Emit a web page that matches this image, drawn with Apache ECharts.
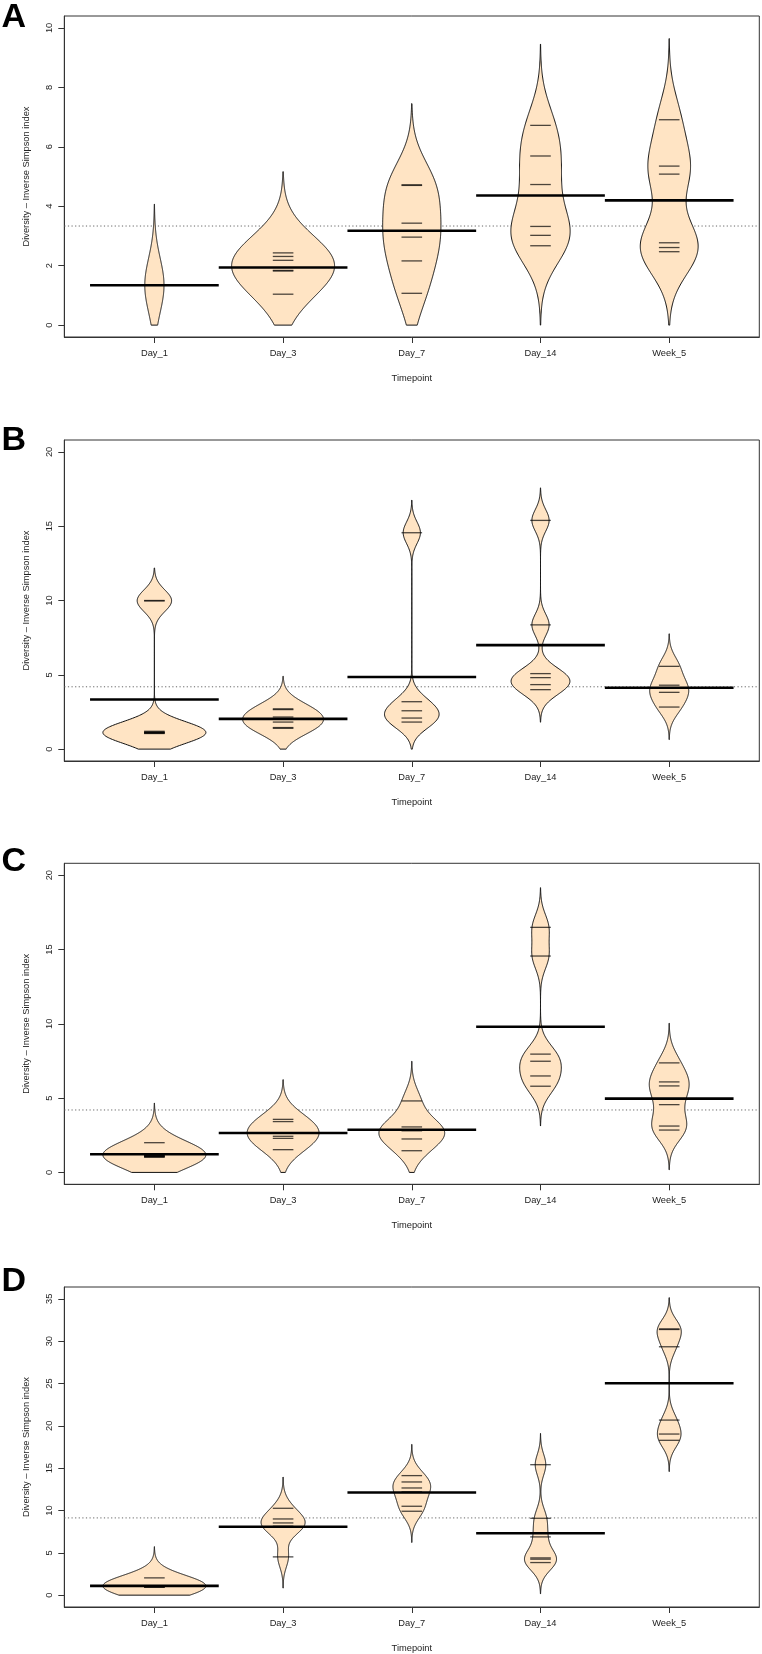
<!DOCTYPE html>
<html><head><meta charset="utf-8">
<script src="https://cdn.jsdelivr.net/npm/echarts@6/dist/echarts.min.js"></script>
<style>html,body{margin:0;padding:0;background:#fff}#chart{width:762px;height:1654px}</style>
</head><body><div id="chart"></div>
<script>
// ---------- data ----------
const categories = ['Day_1', 'Day_3', 'Day_7', 'Day_14', 'Week_5'];
const panelLetters = ['A', 'B', 'C', 'D'];
const yAxisTitle = 'Diversity \u2013 Inverse Simpson index';
const xAxisTitle = 'Timepoint';
const yLimits = [10, 20, 20, 35];        // upper y limit of each panel (lower is 0)
const yTickSteps = [2, 5, 5, 5];
const bandwidths = [0.91, 0.73, 0.89, 1.23]; // smoothing bandwidth of each panel

const obsA = [
  [1.34],
  [2.43, 2.31, 2.18, 1.84, 1.82, 1.04],
  [4.72, 4.70, 3.43, 2.96, 2.16, 1.07],
  [6.72, 5.69, 4.73, 3.32, 3.02, 2.67],
  [6.91, 5.35, 5.08, 2.77, 2.61, 2.47]
];
const obsB = [
  [10.0, 9.97, 1.20, 1.15, 1.12, 1.10, 1.08, 1.05],
  [2.71, 2.66, 2.16, 1.82, 1.45, 1.40],
  [14.56, 3.19, 2.58, 2.09, 1.82],
  [15.39, 8.36, 5.08, 4.81, 4.34, 4.00],
  [5.57, 4.30, 3.82, 2.83]
];
const obsC = [
  [2.00, 1.15, 1.12, 1.10, 1.08, 1.05, 1.02],
  [3.57, 3.42, 2.67, 2.43, 2.29, 1.53],
  [4.81, 3.06, 2.85, 2.80, 2.25, 1.46],
  [16.49, 14.56, 7.96, 7.48, 6.49, 5.80],
  [7.37, 6.09, 5.82, 4.56, 3.12, 2.85]
];
const obsD = [
  [2.04, 1.04, 1.03, 1.03, 1.02, 1.02, 1.01, 1.01, 1.00, 1.00, 1.00, 1.00],
  [10.26, 9.00, 8.53, 8.14, 8.02, 4.52],
  [14.12, 13.37, 12.66, 12.20, 10.50, 9.91],
  [15.41, 9.08, 6.88, 4.40, 4.25, 3.85],
  [31.45, 31.38, 29.34, 20.68, 19.03, 18.29]
];
const panels = [obsA, obsB, obsC, obsD];

// ---------- layout ----------
const gridTops = [16, 440, 863.3, 1287];
const gridHeight = 321;
const gridLeft = 64.3, gridWidth = 695;
const letterCenters = [17.2, 440.3, 862, 1282];
const FONT = '"Liberation Sans", Arial, Helvetica, sans-serif';
const FILL = '#FFE4C4';

// ---------- bean densities (beanplot style: gaussian kernel, cut = 3 bw, cut at 0, grown-age 10) ----------
const beans = panels.map((groups, p) => {
  const bw = bandwidths[p];
  const list = groups.map(xs => {
    const lo = Math.max(0, Math.min(...xs) - 3 * bw);
    const hi = Math.max(...xs) + 3 * bw;
    const factor = Math.min(1, 10 / xs.length);
    const ys = [], ds = [];
    const N = 300;
    for (let k = 0; k <= N; k++) {
      const y = lo + (hi - lo) * k / N;
      let s = 0;
      xs.forEach(x => { const z = (y - x) / bw; s += Math.exp(-0.5 * z * z); });
      ys.push(y); ds.push(s * factor);
    }
    return { ys, ds };
  });
  const maxD = Math.max(...list.map(b => Math.max(...b.ds)));
  list.forEach(b => { b.w = b.ds.map(d => 0.4 * d / maxD); });
  return list;
});
const mean = a => a.reduce((s, v) => s + v, 0) / a.length;

// ---------- option ----------
const grid = [], xAxis = [], yAxis = [], series = [];
panels.forEach((groups, p) => {
  const L = yLimits[p];
  const ticks = [];
  for (let v = 0; v <= L + 1e-9; v += yTickSteps[p]) ticks.push(v);
  grid.push({ left: gridLeft, top: gridTops[p], width: gridWidth, height: gridHeight,
    show: true, borderColor: '#333', borderWidth: 1, backgroundColor: 'transparent' });
  xAxis.push({ gridIndex: p, type: 'value', min: 0.3, max: 5.7,
    axisLine: { show: true, onZero: false, lineStyle: { color: '#333', width: 1 } },
    splitLine: { show: false },
    axisTick: { show: true, customValues: [1, 2, 3, 4, 5], length: 6, lineStyle: { color: '#333' } },
    axisLabel: { customValues: [1, 2, 3, 4, 5], formatter: v => categories[Math.round(v) - 1],
      fontSize: 9.3, fontFamily: FONT, color: '#222', margin: 12 },
    name: xAxisTitle, nameLocation: 'middle', nameGap: 37,
    nameTextStyle: { fontSize: 9.3, fontFamily: FONT, color: '#222' } });
  yAxis.push({ gridIndex: p, type: 'value', min: -0.04 * L, max: 1.04 * L,
    axisLine: { show: true, onZero: false, lineStyle: { color: '#333', width: 1 } },
    splitLine: { show: false },
    axisTick: { show: true, customValues: ticks, length: 6, lineStyle: { color: '#333' } },
    axisLabel: { customValues: ticks, rotate: 90, fontSize: 9.3, fontFamily: FONT, color: '#222', margin: 10 },
    name: yAxisTitle, nameLocation: 'middle', nameRotate: 90, nameGap: 33,
    nameTextStyle: { fontSize: 9.3, fontFamily: FONT, color: '#222' } });

  const all = [].concat(...groups);
  const overall = mean(all);
  series.push({ type: 'line', xAxisIndex: p, yAxisIndex: p, silent: true, symbol: 'none', z: 1,
    data: [[0.3, overall], [5.7, overall]],
    lineStyle: { type: [1.2, 2.4], color: '#666', width: 1 } });

  series.push({ type: 'custom', xAxisIndex: p, yAxisIndex: p, silent: true, z: 2,
    data: groups.map((g, i) => [i + 1, mean(g)]),
    renderItem: (params, api) => {
      const b = beans[p][params.dataIndex];
      const cx = api.value(0);
      const pts = [];
      for (let k = 0; k < b.ys.length; k++) pts.push(api.coord([cx - b.w[k], b.ys[k]]));
      for (let k = b.ys.length - 1; k >= 0; k--) pts.push(api.coord([cx + b.w[k], b.ys[k]]));
      return { type: 'polygon', shape: { points: pts },
        style: { fill: FILL, stroke: '#111', lineWidth: 1 } };
    } });

  const obsData = [];
  groups.forEach((g, i) => g.forEach(v => obsData.push([i + 1, v])));
  series.push({ type: 'custom', xAxisIndex: p, yAxisIndex: p, silent: true, z: 3,
    data: obsData,
    renderItem: (params, api) => {
      const x = api.value(0), v = api.value(1);
      const a = api.coord([x - 0.08, v]), b = api.coord([x + 0.08, v]);
      return { type: 'line', shape: { x1: a[0], y1: a[1], x2: b[0], y2: b[1] },
        style: { stroke: 'rgba(0,0,0,0.7)', lineWidth: 1.3 } };
    } });

  series.push({ type: 'custom', xAxisIndex: p, yAxisIndex: p, silent: true, z: 4,
    data: groups.map((g, i) => [i + 1, mean(g)]),
    renderItem: (params, api) => {
      const x = api.value(0), v = api.value(1);
      const a = api.coord([x - 0.5, v]), b = api.coord([x + 0.5, v]);
      return { type: 'line', shape: { x1: a[0], y1: a[1], x2: b[0], y2: b[1] },
        style: { stroke: '#000', lineWidth: 2.6 } };
    } });
});

const graphic = panelLetters.map((t, i) => ({
  type: 'text', x: 1.5, y: letterCenters[i],
  style: { text: t, fontSize: 34, fontWeight: 'bold', fontFamily: FONT, fill: '#000',
    align: 'left', verticalAlign: 'middle' }
}));

const chart = echarts.init(document.getElementById('chart'), null, { renderer: 'canvas' });
chart.setOption({ animation: false, backgroundColor: '#fff', grid, xAxis, yAxis, series, graphic });
</script></body></html>
